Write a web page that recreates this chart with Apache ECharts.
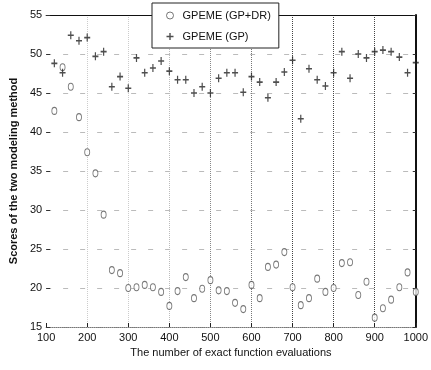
<!DOCTYPE html>
<html>
<head>
<meta charset="utf-8">
<script src="https://cdn.jsdelivr.net/npm/echarts@6/dist/echarts.min.js"></script>
<style>
html,body{margin:0;padding:0;background:#fff;}
#chart{width:431px;height:370px;}
</style>
</head>
<body>
<div id="chart"></div>
<script>
// Evaluation budgets (x) and scores of the two modeling methods
const evaluations = [120,140,160,180,200,220,240,260,280,300,320,340,360,380,400,420,440,460,480,500,
  520,540,560,580,600,620,640,660,680,700,720,740,760,780,800,820,840,860,880,900,920,940,960,980,1000];
const scoresGPDR = [42.7,48.3,45.8,41.9,37.4,34.7,29.4,22.3,21.9,20.0,20.1,20.4,20.1,19.5,17.7,19.6,21.4,18.7,19.9,21.0,
  19.7,19.6,18.1,17.3,20.4,18.7,22.7,23.0,24.6,20.1,17.8,18.7,21.2,19.5,20.0,23.2,23.3,19.1,20.8,16.2,17.4,18.5,20.1,22.0,19.5];
const scoresGP = [48.8,47.6,52.4,51.7,52.1,49.7,50.3,45.8,47.1,45.6,49.5,47.6,48.2,49.1,47.8,46.7,46.7,45.0,45.8,45.0,
  46.9,47.6,47.6,45.1,47.1,46.4,44.4,46.4,47.7,49.2,41.7,48.1,46.7,45.9,47.6,50.3,46.9,50.0,49.5,50.3,50.5,50.3,49.6,47.6,48.9];
const yTicks = [15,20,25,30,35,40,45,50,55];
const xTicks = [100,200,300,400,500,600,700,800,900,1000];
const seriesNames = ['GPEME (GP+DR)', 'GPEME (GP)'];

const plusPath = 'path://M4,0H6V4H10V6H6V10H4V6H0V4H4Z';
const font = 'Liberation Sans, Arial, sans-serif';
const ringStyle = {color: '#fff', borderColor: '#555', borderWidth: 1};

const chart = echarts.init(document.getElementById('chart'), null, {renderer: 'canvas'});
chart.setOption({
  animation: false,
  backgroundColor: '#fff',
  grid: {left: 41, right: 14, top: 15, bottom: 43, containLabel: false},
  legend: {
    left: 152, top: 3,
    orient: 'vertical',
    padding: [7, 8, 6, 14],
    itemGap: 10,
    itemWidth: 7, itemHeight: 8,
    backgroundColor: '#fff',
    borderColor: '#222', borderWidth: 1,
    z: 10,
    textStyle: {fontFamily: font, fontSize: 11, color: '#111', padding: [0, 0, 0, 4]},
    data: [
      {name: seriesNames[0], icon: 'circle', itemStyle: ringStyle},
      {name: seriesNames[1], icon: plusPath, itemStyle: {color: '#222'}}
    ]
  },
  xAxis: [{
    type: 'value', min: 100, max: 1000, interval: 100,
    position: 'bottom',
    axisLine: {show: true, lineStyle: {color: '#777', type: 'dotted', width: 1}},
    axisTick: {show: true, inside: true, length: 4, lineStyle: {color: '#222'}},
    axisLabel: {fontFamily: font, fontSize: 11, color: '#111', margin: 5,
      formatter: v => xTicks.includes(v) ? String(v) : ''},
    splitLine: {show: true, lineStyle: {type: 'dotted', width: 1,
      color: ['#fff','#ccc','#ccc','#bbb','#888','#777','#444','#444','#444','#fff']}},
    name: 'The number of exact function evaluations',
    nameLocation: 'middle', nameGap: 20,
    nameTextStyle: {fontFamily: font, fontSize: 11, color: '#111'}
  }, {
    type: 'value', min: 100, max: 1000, interval: 100,
    position: 'top',
    axisLine: {show: true, lineStyle: {color: '#111', width: 1}},
    axisTick: {show: false}, axisLabel: {show: false}, splitLine: {show: false}
  }],
  yAxis: [{
    type: 'value', min: 15, max: 55, interval: 5,
    position: 'left',
    axisLine: {show: false},
    axisTick: {show: true, inside: true, length: 4, lineStyle: {color: '#333'}},
    axisLabel: {fontFamily: font, fontSize: 11, color: '#111', margin: 4,
      formatter: v => yTicks.includes(v) ? String(v) : ''},
    splitLine: {show: true, lineStyle: {type: [5, 12], color: '#bbb', width: 1}},
    name: 'Scores of the two modeling method',
    nameLocation: 'middle', nameGap: 24, nameRotate: 90,
    nameTextStyle: {fontFamily: font, fontSize: 11, fontWeight: 'bold', color: '#111'}
  }, {
    type: 'value', min: 15, max: 55, interval: 5,
    position: 'right',
    axisLine: {show: true, lineStyle: {color: '#111', width: 2}},
    axisTick: {show: true, inside: true, length: 3, lineStyle: {color: '#333'}},
    axisLabel: {show: false}, splitLine: {show: false}
  }],
  series: [{
    name: seriesNames[0], type: 'scatter',
    data: evaluations.map((x, i) => [x, scoresGPDR[i]]),
    symbol: 'circle', symbolSize: [5, 7],
    itemStyle: ringStyle,
    z: 3
  }, {
    name: seriesNames[1], type: 'scatter',
    data: evaluations.map((x, i) => [x, scoresGP[i]]),
    symbol: plusPath, symbolSize: [6, 8],
    itemStyle: {color: '#222'},
    z: 4
  }]
});
</script>
</body>
</html>
